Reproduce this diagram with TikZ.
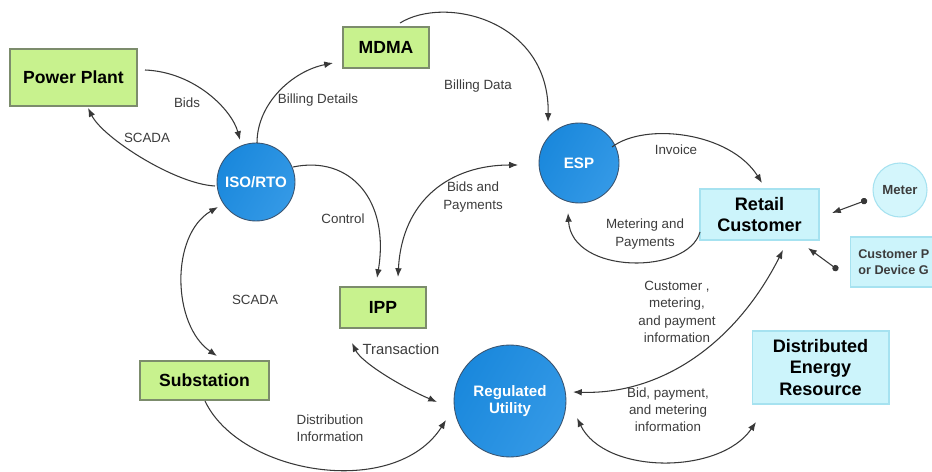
\documentclass[tikz,border=0pt]{standalone}
\usepackage{fontspec}
\setmainfont{Liberation Sans}
\usetikzlibrary{arrows.meta,calc}
\definecolor{boxgreen}{HTML}{C8F28E}
\definecolor{greenedge}{HTML}{7C8C6C}
\definecolor{boxcyan}{HTML}{CCF4FB}
\definecolor{cyanedge}{HTML}{A6E2F0}
\definecolor{blueA}{HTML}{1A88DC}
\definecolor{blueB}{HTML}{3499E6}
\definecolor{blueedge}{HTML}{3A5470}
\definecolor{linegray}{HTML}{383838}
\definecolor{labelgray}{HTML}{3C3C3C}
\tikzset{
  greenbox/.style={draw=greenedge, fill=boxgreen, line width=0.6pt, inner sep=0pt,
    align=center, font=\fontsize{10}{12}\selectfont\bfseries},
  cyanbox/.style={draw=cyanedge, fill=boxcyan, line width=0.6pt, inner sep=0pt,
    align=center, font=\fontsize{10.3}{12.2}\selectfont\bfseries},
  bubble/.style={circle, draw=blueedge, line width=0.5pt, left color=blueA, right color=blueB,
    shading angle=60, inner sep=0pt, align=center, text=white,
    font=\fontsize{8.6}{10}\selectfont\bfseries},
  lbl/.style={font=\fontsize{7.6}{9.8}\selectfont, text=labelgray, align=center, inner sep=0pt},
  flow/.style={draw=linegray, line width=0.6pt, -{Latex[length=5pt,width=3.8pt]}},
  twoway/.style={draw=linegray, line width=0.6pt, {Latex[length=5pt,width=3.8pt]}-{Latex[length=5pt,width=3.8pt]}},
  dotflow/.style={draw=linegray, line width=0.6pt, {Circle[length=3.6pt]}-{Latex[length=5pt,width=3.8pt]}}
}
\begin{document}
\begin{tikzpicture}[x=0.02cm, y=-0.02cm]
\useasboundingbox (0,0) rectangle (932,472);
\clip (0,0) rectangle (932,472);
\fill[white] (0,0) rectangle (932,472);

% boxes
\node[greenbox, minimum width=2.54cm, minimum height=1.14cm] (pp) at (73.5,77.5) {Power Plant};
\node[greenbox, minimum width=1.72cm, minimum height=0.82cm] (mdma) at (386,47.5) {MDMA};
\node[greenbox, minimum width=1.72cm, minimum height=0.82cm] (ipp) at (383,307.5) {IPP};
\node[greenbox, minimum width=2.58cm, minimum height=0.78cm] (sub) at (204.5,380.5) {Substation};
\node[cyanbox, minimum width=2.38cm, minimum height=1.02cm] (rc) at (759.5,214.5) {Retail\\Customer};
\node[cyanbox, minimum width=2.74cm, minimum height=1.46cm] (der) at (820.5,367.5) {Distributed\\Energy\\Resource};
\node[draw=cyanedge, fill=boxcyan, line width=0.6pt, minimum width=1.9cm, minimum height=1.0cm, inner sep=0pt] (cpd) at (898,262) {};
\node[anchor=west, align=left, inner sep=0pt, font=\fontsize{7.2}{8.8}\selectfont\bfseries, text=labelgray] (cpdtext) at (858,262) {Customer P\\or Device G};

% circles
\node[bubble, minimum size=1.56cm] (iso) at (256,182) {ISO/RTO};
\node[bubble, minimum size=1.6cm] (esp) at (579,163) {ESP};
\node[bubble, minimum size=2.24cm] (ru) at (510,401) {Regulated\\Utility};
\node[circle, draw=cyanedge, fill=boxcyan!85!white, line width=0.6pt, minimum size=1.08cm, inner sep=0pt,
      font=\fontsize{7.5}{9}\selectfont\bfseries, text=labelgray] (meter) at (900,190) {Meter};

% connectors
\draw[flow] ($(pp)+(71.5,-7.5)$) .. controls +(50,2) and +(-8,-30) .. ($(iso)+(-16,-42)$);
\draw[flow] ($(iso)+(-41,4)$) .. controls +(-40,-2) and +(15,30) .. ($(pp)+(14.5,30.5)$);
\draw[flow] ($(iso)+(1,-39)$) .. controls +(0,-40) and +(-40,8) .. ($(mdma)+(-53,15.5)$);
\draw[flow] ($(mdma)+(14,-24.5)$) .. controls +(45,-28) and +(2,-102) .. ($(esp)+(-31,-41)$);
\draw[flow] ($(iso)+(37,-15)$) .. controls +(57,-12) and +(13,-78) .. ($(ipp)+(-6,-29.5)$);
\draw[twoway] ($(ipp)+(15,-30.5)$) .. controls +(4,-77) and +(-68,0) .. ($(esp)+(-61,2)$);
\draw[flow] ($(esp)+(33,-16)$) .. controls +(33,-25) and +(-32,-51) .. ($(rc)+(2.5,-31.5)$);
\draw[flow] ($(rc)+(-59.5,17.5)$) .. controls +(-12,43) and +(4,62) .. ($(esp)+(-11,50)$);
\draw[dotflow] ($(meter)+(-33,10)$) -- ($(rc)+(72.5,-1.5)$);
\draw[dotflow] ($(cpd)+(-60,8)$) -- ($(rc)+(48.5,33.5)$);
\draw[twoway] ($(rc)+(23.5,35.5)$) .. controls +(-48,95) and +(87,3) .. ($(ru)+(63,-9)$);
\draw[twoway] ($(ru)+(67,17)$) .. controls +(28,57) and +(-36,53) .. ($(der)+(-64.5,54.5)$);
\draw[twoway] ($(ipp)+(-31,35.5)$) .. controls +(10,20) and +(-35,-15) .. ($(ru)+(-73,1)$);
\draw[twoway] ($(iso)+(-38,25)$) .. controls +(-48,28) and +(-45,-31) .. ($(sub)+(12.5,-24.5)$);
\draw[flow] ($(sub)+(0.5,20.5)$) .. controls +(35,74) and +(-51,80) .. ($(ru)+(-64,19)$);

% labels
\node[lbl] (lbids) at (187,103) {Bids};
\node[lbl] (lscada1) at (147,138) {SCADA};
\node[lbl] (lbilldet) at (318,100) {Billing Details};
\node[lbl] (lbilldata) at (478,86) {Billing Data};
\node[lbl] (lcontrol) at (343,219) {Control};
\node[lbl] (lbidspay) at (473,197) {Bids and\\Payments};
\node[lbl] (linvoice) at (676,150) {Invoice};
\node[lbl] (lmetpay) at (645,234) {Metering and\\Payments};
\node[lbl] (lscada2) at (255,300) {SCADA};
\node[lbl, font=\fontsize{8.4}{10}\selectfont] (ltrans) at (401,349) {Transaction};
\node[lbl] (ldist) at (330,428) {Distribution\\Information};
\node[lbl] (lcust) at (677,312) {Customer ,\\metering,\\and payment\\information};
\node[lbl] (lbid) at (668,410) {Bid, payment,\\and metering\\information};
\end{tikzpicture}
\end{document}
